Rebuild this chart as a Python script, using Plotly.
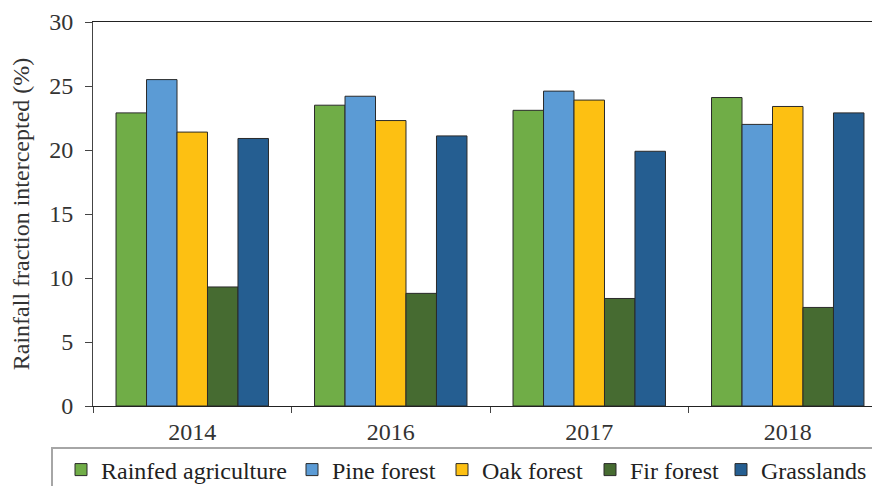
import plotly.graph_objects as go

years = ["2014", "2016", "2017", "2018"]
series_names = ["Rainfed agriculture", "Pine forest", "Oak forest", "Fir forest", "Grasslands"]
rainfed = [22.9, 23.5, 23.1, 24.1]
pine = [25.5, 24.2, 24.6, 22.0]
oak = [21.4, 22.3, 23.9, 23.4]
fir = [9.3, 8.8, 8.4, 7.7]
grass = [20.9, 21.1, 19.9, 22.9]
colors = ["#70AD47", "#5B9BD5", "#FDC012", "#466B31", "#255E91"]

FONT = "Liberation Serif"
W, H = 872, 486
L, T, B = 93, 22, 80
PW = W - L
PH = H - T - B

# legend text left positions (px) in the reference
legend_text_x = [97, 328, 478, 626, 757]
legend_keys = ["legend", "legend2", "legend3", "legend4", "legend5"]

fig = go.Figure()
for name, vals, c, lg in zip(series_names, [rainfed, pine, oak, fir, grass], colors, legend_keys):
    fig.add_trace(go.Bar(x=years, y=vals, name=name, legend=lg,
                         marker=dict(color=c, line=dict(color="#2a2a2a", width=1))))

legends = {}
for lg, tx in zip(legend_keys, legend_text_x):
    legends[lg] = dict(orientation="h", xref="container", yref="container",
                       x=(tx - 39 + 3) / W, xanchor="left",
                       y=1 - 470 / H, yanchor="middle",
                       font=dict(family=FONT, size=24, color="#222222"),
                       bgcolor="rgba(0,0,0,0)", itemwidth=30)

fig.update_layout(
    width=W, height=H,
    margin=dict(l=L, r=0, t=T, b=B, autoexpand=False),
    paper_bgcolor="white", plot_bgcolor="white",
    barmode="group", bargap=0.232, bargroupgap=0,
    font=dict(family=FONT, color="#333333", size=24),
    showlegend=True,
    **legends,
    xaxis=dict(type="category", range=[-0.5, 3.5 - 15 / 198.5], automargin=False,
               showline=True, linecolor="#222222", linewidth=1, mirror=True,
               ticks="outside", tickson="boundaries", ticklen=6, tickcolor="#444444",
               ticklabelstandoff=4,
               tickfont=dict(family=FONT, size=24, color="#333333"),
               showgrid=False, zeroline=False),
    yaxis=dict(range=[0, 30], dtick=5, showline=True, linecolor="#444444", linewidth=1,
               automargin=False,
               ticks="outside", ticklen=7, tickcolor="#444444", ticklabelstandoff=7,
               tickfont=dict(family=FONT, size=24, color="#333333"),
               showgrid=False, zeroline=False,
               title=dict(text="Rainfall fraction intercepted (%)", standoff=12,
                          font=dict(family=FONT, size=24, color="#333333"))),
    yaxis2=dict(range=[0, 30], overlaying="y", side="left", anchor="x",
                dtick=1, ticks="inside", ticklen=7, tickcolor="#555555",
                showticklabels=False, showline=False, showgrid=False, zeroline=False,
                automargin=False),
    shapes=[dict(type="rect", xref="paper", yref="paper",
                 x0=(52 - L) / PW, x1=1.1, y0=(T + PH - 448) / PH, y1=-0.4,
                 line=dict(color="#a6a6a6", width=2), fillcolor="rgba(0,0,0,0)")],
)

fig.write_html("out.html", config={"displayModeBar": False},
               post_script="document.body.style.margin='0px';"
                           "document.body.style.overflow='hidden';")
